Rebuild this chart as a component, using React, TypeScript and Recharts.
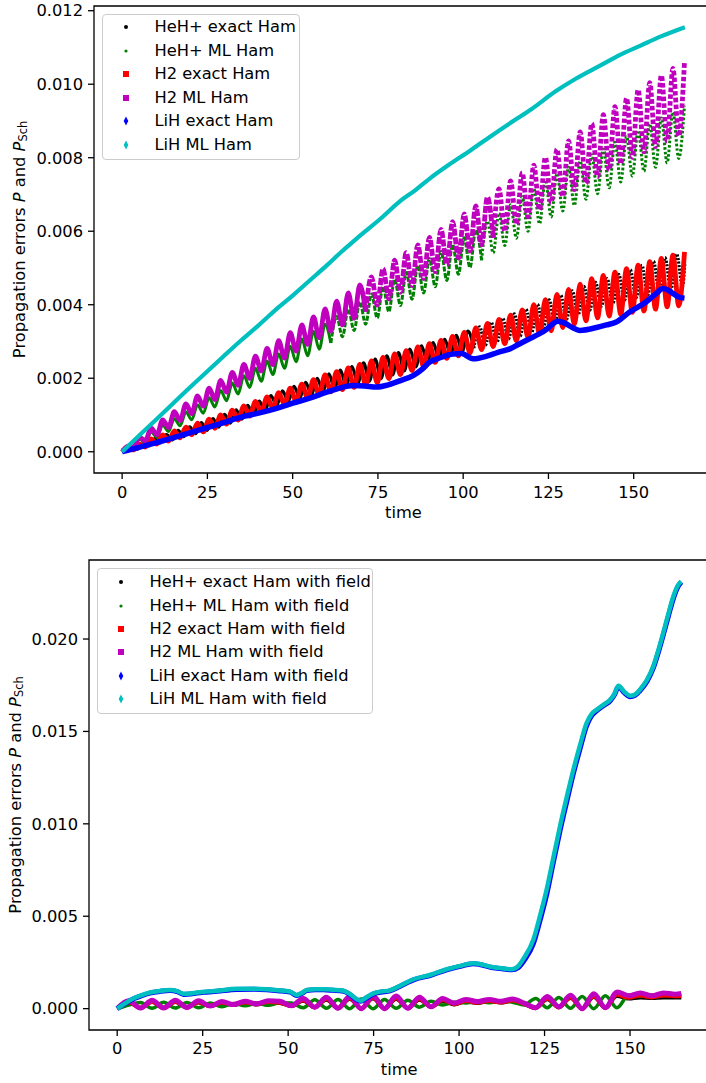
import React from 'react';
import { LineChart, Line, XAxis, YAxis, ReferenceArea, Label } from 'recharts';

const FONT = '"DejaVu Sans", sans-serif';
const FS = 16.3;

// ---------- field-free propagation (values in units of 1e-3) ----------
// half-period sampling of the oscillating errors
const tOsc = [
  0, 1.7, 3.4, 5.1, 6.8, 8.5, 10.2, 11.9, 13.6, 15.3,
  17, 18.7, 20.4, 22.1, 23.8, 25.5, 27.2, 28.9, 30.6, 32.3,
  34, 35.7, 37.4, 39.1, 40.8, 42.5, 44.2, 45.9, 47.6, 49.3,
  51, 52.7, 54.4, 56.1, 57.8, 59.5, 61.2, 62.9, 64.6, 66.3,
  68, 69.7, 71.4, 73.1, 74.8, 76.5, 78.2, 79.9, 81.6, 83.3,
  85, 86.7, 88.4, 90.1, 91.8, 93.5, 95.2, 96.9, 98.6, 100.3,
  102, 103.7, 105.4, 107.1, 108.8, 110.5, 112.2, 113.9, 115.6, 117.3,
  119, 120.7, 122.4, 124.1, 125.8, 127.5, 129.2, 130.9, 132.6, 134.3,
  136, 137.7, 139.4, 141.1, 142.8, 144.5, 146.2, 147.9, 149.6, 151.3,
  153, 154.7, 156.4, 158.1, 159.8, 161.5, 163.2, 164.9,
];
// HeH+ exact Ham lags the other oscillating curves slightly
const tHeExact = [
  0, 2.8, 4.5, 6.2, 7.9, 9.6, 11.3, 13, 14.7, 16.4,
  18.1, 19.8, 21.5, 23.2, 24.9, 26.6, 28.3, 30, 31.7, 33.4,
  35.1, 36.8, 38.5, 40.2, 41.9, 43.6, 45.3, 47, 48.7, 50.4,
  52.1, 53.8, 55.5, 57.2, 58.9, 60.6, 62.3, 64, 65.7, 67.4,
  69.1, 70.8, 72.5, 74.2, 75.9, 77.6, 79.3, 81, 82.7, 84.4,
  86.1, 87.8, 89.5, 91.2, 92.9, 94.6, 96.3, 98, 99.7, 101.4,
  103.1, 104.8, 106.5, 108.2, 109.9, 111.6, 113.3, 115, 116.7, 118.4,
  120.1, 121.8, 123.5, 125.2, 126.9, 128.6, 130.3, 132, 133.7, 135.4,
  137.1, 138.8, 140.5, 142.2, 143.9, 145.6, 147.3, 149, 150.7, 152.4,
  154.1, 155.8, 157.5, 159.2, 160.9, 162.6, 164.3, 165,
];
const heExact = [
  0.00, 0.10, 0.07, 0.22, 0.16, 0.36, 0.24, 0.47, 0.32, 0.58,
  0.41, 0.68, 0.49, 0.79, 0.58, 0.90, 0.67, 1.02, 0.78, 1.14,
  0.89, 1.26, 1.00, 1.38, 1.12, 1.53, 1.26, 1.66, 1.37, 1.78,
  1.46, 1.89, 1.55, 2.00, 1.64, 2.12, 1.73, 2.22, 1.79, 2.32,
  1.86, 2.42, 1.92, 2.52, 1.99, 2.61, 2.09, 2.70, 2.20, 2.79,
  2.31, 2.88, 2.43, 2.97, 2.54, 3.06, 2.65, 3.17, 2.73, 3.28,
  2.82, 3.40, 2.90, 3.52, 2.98, 3.63, 3.07, 3.75, 3.15, 3.88,
  3.25, 4.01, 3.36, 4.13, 3.48, 4.26, 3.60, 4.38, 3.72, 4.50,
  3.85, 4.61, 3.96, 4.71, 4.04, 4.83, 4.12, 4.95, 4.19, 5.07,
  4.27, 5.18, 4.34, 5.28, 4.41, 5.38, 4.50, 5.15,
];
const heML = [
  0.00, 0.14, 0.11, 0.34, 0.25, 0.54, 0.39, 0.73, 0.55, 0.90,
  0.71, 1.08, 0.87, 1.27, 1.05, 1.47, 1.22, 1.67, 1.39, 1.87,
  1.57, 2.07, 1.75, 2.27, 1.92, 2.47, 2.10, 2.66, 2.27, 2.87,
  2.45, 3.07, 2.61, 3.28, 2.79, 3.47, 2.96, 3.68, 3.13, 3.88,
  3.30, 4.08, 3.47, 4.29, 3.64, 4.49, 3.81, 4.69, 3.98, 4.88,
  4.15, 5.07, 4.32, 5.26, 4.49, 5.45, 4.66, 5.64, 4.83, 5.82,
  5.01, 6.04, 5.21, 6.27, 5.41, 6.49, 5.61, 6.72, 5.81, 6.94,
  6.00, 7.16, 6.20, 7.39, 6.39, 7.57, 6.55, 7.74, 6.70, 7.91,
  6.87, 8.08, 7.02, 8.24, 7.18, 8.42, 7.34, 8.58, 7.50, 8.74,
  7.63, 8.92, 7.74, 9.08, 7.86, 9.24, 7.98, 9.42,
];
const h2Exact = [
  0.02, 0.09, 0.05, 0.21, 0.13, 0.35, 0.21, 0.46, 0.29, 0.57,
  0.38, 0.67, 0.46, 0.78, 0.54, 0.89, 0.64, 1.00, 0.75, 1.13,
  0.86, 1.25, 0.97, 1.37, 1.08, 1.49, 1.19, 1.61, 1.29, 1.73,
  1.38, 1.84, 1.46, 1.96, 1.54, 2.09, 1.63, 2.18, 1.69, 2.28,
  1.75, 2.38, 1.82, 2.47, 1.88, 2.57, 1.99, 2.66, 2.10, 2.75,
  2.21, 2.85, 2.32, 2.94, 2.43, 3.03, 2.54, 3.14, 2.61, 3.25,
  2.69, 3.37, 2.78, 3.49, 2.86, 3.60, 2.94, 3.72, 3.02, 3.86,
  3.11, 4.00, 3.20, 4.14, 3.29, 4.28, 3.38, 4.42, 3.47, 4.56,
  3.56, 4.71, 3.64, 4.80, 3.69, 4.89, 3.74, 4.98, 3.79, 5.08,
  3.83, 5.17, 3.88, 5.26, 3.94, 5.35, 3.97, 5.44,
];
const h2ML = [
  0.00, 0.15, 0.13, 0.40, 0.30, 0.64, 0.46, 0.87, 0.66, 1.09,
  0.85, 1.30, 1.04, 1.52, 1.24, 1.73, 1.42, 1.94, 1.62, 2.16,
  1.81, 2.38, 2.00, 2.60, 2.20, 2.81, 2.37, 3.02, 2.55, 3.24,
  2.74, 3.45, 2.92, 3.67, 3.10, 3.89, 3.28, 4.10, 3.45, 4.32,
  3.63, 4.54, 3.81, 4.76, 3.99, 4.98, 4.16, 5.21, 4.34, 5.42,
  4.52, 5.63, 4.71, 5.83, 4.90, 6.05, 5.09, 6.26, 5.27, 6.47,
  5.46, 6.69, 5.63, 6.93, 5.82, 7.15, 6.00, 7.37, 6.19, 7.59,
  6.39, 7.80, 6.58, 8.01, 6.78, 8.23, 6.95, 8.46, 7.13, 8.70,
  7.30, 8.93, 7.48, 9.17, 7.66, 9.39, 7.83, 9.62, 8.01, 9.85,
  8.16, 10.04, 8.30, 10.24, 8.45, 10.43, 8.59, 10.63,
];
const tLiHExact = [
  0, 5, 10, 15, 20, 25, 30, 32.6, 36, 40, 45.3, 50, 55, 60, 64, 67.8,
  71, 74.6, 78, 82, 85.3, 88, 90.2, 93, 97.1, 99.5, 102.9, 106.9, 110, 113.7,
  116.6, 120.5, 124, 127.8, 129.8, 132, 134.2, 139.1, 142, 144.9, 148.8, 153.7,
  156.5, 158.6, 160, 161.5, 163, 164.9,
];
const lihExact = [
  0, 0.12, 0.25, 0.38, 0.52, 0.66, 0.8, 0.88, 0.97, 1.05, 1.18, 1.32, 1.46, 1.62, 1.74, 1.8,
  1.79, 1.76, 1.82, 1.95, 2.07, 2.25, 2.44, 2.55, 2.66, 2.67, 2.53, 2.6, 2.7, 2.8,
  2.94, 3.12, 3.3, 3.55, 3.5, 3.38, 3.3, 3.38, 3.45, 3.53, 3.8, 4.08,
  4.3, 4.44, 4.4, 4.31, 4.22, 4.18,
];
const tLiHML = [
  0, 5, 10, 15, 20, 25, 30, 35, 40, 46, 50, 55, 60, 64.4, 68, 72,
  76, 81.5, 86, 90, 96, 102, 108, 114.7, 120, 127, 133, 140, 146, 152, 158, 165,
];
const lihML = [
  0, 0.44, 0.88, 1.32, 1.76, 2.19, 2.62, 3.04, 3.44, 3.94, 4.25, 4.66, 5.07, 5.45, 5.74, 6.05,
  6.36, 6.82, 7.12, 7.42, 7.82, 8.19, 8.58, 9.0, 9.32, 9.8, 10.15, 10.5, 10.8, 11.05, 11.3, 11.55,
];

// ---------- propagation with field (values in units of 1e-3) ----------
const tField = [
  0, 3.4, 6.8, 10.2, 13.6, 17, 20.4, 23.8, 27.2, 30.6,
  34, 37.4, 40.8, 44.2, 47.6, 51, 54.4, 57.8, 61.2, 64.6,
  68, 71.4, 74.8, 78.2, 81.6, 85, 88.4, 91.8, 95.2, 98.6,
  102, 105.4, 108.8, 112.2, 115.6, 119, 122.4, 125.8, 129.2, 132.6,
  136, 139.4, 142.8, 146.2, 149.6, 153, 156.4, 159.8, 163.2, 165,
];
const fHeExact = [
  0, 0.30, 0.03, 0.33, 0.04, 0.33, 0.06, 0.30, 0.12, 0.28,
  0.18, 0.30, 0.20, 0.30, 0.28, 0.12, 0.40, 0.05, 0.45, 0.0,
  0.50, 0.0, 0.52, 0.0, 0.50, 0.02, 0.46, 0.08, 0.40, 0.20,
  0.36, 0.28, 0.38, 0.30, 0.40, 0.22, 0.02, 0.48, 0.05, 0.55,
  0.0, 0.60, 0.03, 0.65, 0.52, 0.58, 0.55, 0.58, 0.57, 0.58,
];
const fHeML = [
  0.0, 0.20, 0.33, 0.02, 0.34, 0.03, 0.33, 0.05, 0.30, 0.10,
  0.28, 0.15, 0.30, 0.18, 0.32, 0.30, 0.05, 0.48, 0.02, 0.50,
  0.0, 0.52, 0.0, 0.50, 0.02, 0.46, 0.08, 0.40, 0.20, 0.35,
  0.30, 0.40, 0.32, 0.42, 0.35, 0.20, 0.55, 0.05, 0.60, 0.02,
  0.65, 0.0, 0.70, 0.05, 0.72, 0.68, 0.72, 0.70, 0.72, 0.74,
];
const fH2Exact = [
  0, 0.35, 0.04, 0.38, 0.05, 0.38, 0.07, 0.36, 0.15, 0.33,
  0.22, 0.35, 0.25, 0.37, 0.33, 0.15, 0.47, 0.08, 0.53, 0.03,
  0.57, 0.01, 0.60, 0.01, 0.58, 0.03, 0.54, 0.10, 0.48, 0.25,
  0.42, 0.33, 0.43, 0.35, 0.45, 0.27, 0.04, 0.56, 0.08, 0.62,
  0.0, 0.68, 0.05, 0.76, 0.60, 0.72, 0.62, 0.73, 0.68, 0.70,
];
const fH2ML = [
  0.0, 0.42, 0.03, 0.45, 0.04, 0.45, 0.06, 0.42, 0.14, 0.38,
  0.22, 0.40, 0.26, 0.42, 0.40, 0.15, 0.55, 0.08, 0.62, 0.02,
  0.66, 0.0, 0.70, 0.0, 0.68, 0.02, 0.62, 0.10, 0.55, 0.30,
  0.50, 0.38, 0.50, 0.40, 0.52, 0.30, 0.05, 0.65, 0.10, 0.72,
  0.0, 0.80, 0.05, 0.90, 0.70, 0.85, 0.70, 0.85, 0.78, 0.82,
];
const tLiHField = [
  0, 2.4, 4.8, 7, 9.6, 12.5, 15.5, 17.5, 19.4, 21.5,
  23.3, 26, 29.2, 35, 40, 43.8, 47, 50.6, 52.5, 54,
  55.5, 58, 60.3, 63, 66.2, 68, 70.1, 71.1, 73, 75,
  77, 79.8, 82.3, 84.5, 86.7, 91.5, 96.4, 100, 104.2, 106,
  109.1, 112, 115.4, 117.3, 119, 121.7, 123.5, 125.6, 127.5, 129.5,
  131.5, 133.4, 135.3, 137.3, 138.8, 140.3, 142.3, 144.2, 145.5, 146.6,
  148.3, 150, 151.5, 152.9, 155, 156.8, 158.3, 159.7, 161.2, 162.7,
  164, 165,
];
const fLiHExact = [
  0, 0.28, 0.53, 0.69, 0.84, 0.93, 0.98, 0.92, 0.77, 0.79,
  0.84, 0.89, 0.94, 1.04, 1.05, 1.02, 0.97, 0.89, 0.71, 0.82,
  0.98, 1.02, 1.02, 0.99, 0.94, 0.77, 0.48, 0.40, 0.59, 0.80,
  0.89, 0.96, 1.17, 1.37, 1.56, 1.79, 2.10, 2.27, 2.43, 2.39,
  2.24, 2.17, 2.10, 2.22, 2.6, 3.5, 4.65, 6.15, 7.85, 9.6,
  11.2, 12.7, 14.0, 15.3, 15.85, 16.12, 16.4, 16.66, 17.0, 17.42,
  17.1, 16.88, 16.95, 17.2, 17.72, 18.42, 19.28, 20.2, 21.22, 22.2,
  22.82, 23.08,
];
const fLiHML = [
  0, 0.3, 0.56, 0.72, 0.87, 0.96, 1.01, 0.95, 0.8, 0.82,
  0.87, 0.92, 0.97, 1.07, 1.08, 1.05, 1.0, 0.92, 0.74, 0.85,
  1.01, 1.05, 1.05, 1.02, 0.97, 0.8, 0.51, 0.43, 0.62, 0.83,
  0.92, 0.99, 1.2, 1.4, 1.59, 1.82, 2.13, 2.3, 2.46, 2.42,
  2.27, 2.2, 2.13, 2.3, 2.75, 3.72, 4.9, 6.43, 8.1, 9.85,
  11.45, 12.9, 14.2, 15.45, 15.95, 16.18, 16.45, 16.71, 17.05, 17.47,
  17.15, 16.93, 17.0, 17.26, 17.8, 18.52, 19.4, 20.32, 21.35, 22.31,
  22.9, 23.12,
];

const timeTicks = [0, 25, 50, 75, 100, 125, 150];
const topTicks = [0, 2, 4, 6, 8, 10, 12];
const bottomTicks = [0, 5, 10, 15, 20];
const xDomain: [number, number] = [-8.25, 173.25];
const topDomain: [number, number] = [-0.578, 12.128];
const bottomDomain: [number, number] = [-1.156, 24.276];

const topNames = ['HeH+ exact Ham', 'HeH+ ML Ham', 'H2 exact Ham', 'H2 ML Ham', 'LiH exact Ham', 'LiH ML Ham'];
const bottomNames = topNames.map((n) => n + ' with field');
const colors = ['#000000', '#008000', '#ff0000', '#bf00bf', '#0000ff', '#00bfbf'];
const markers = ['dot', 'smallDot', 'square', 'square', 'diamond', 'diamond'];

type Row = { t: number; v: number };
const rows = (ts: number[], vs: number[]): Row[] => ts.map((t, i) => ({ t, v: vs[i] }));

const fmt = (v: number) => (v / 1000).toFixed(3);

function YTitle(props: any) {
  const vb = props.viewBox || { x: 0, y: 0, width: 0, height: 0 };
  const cx = vb.x + props.shift;
  const cy = vb.y + vb.height / 2;
  return (
    <text
      x={cx}
      y={cy}
      transform={`rotate(-90 ${cx} ${cy})`}
      textAnchor="middle"
      dominantBaseline="central"
      fontFamily={FONT}
      fontSize={FS}
      fill="#000"
    >
      {'Propagation errors '}
      <tspan fontStyle="italic">P</tspan>
      {' and '}
      <tspan fontStyle="italic">P</tspan>
      <tspan fontSize={FS * 0.7} dy={4}>Sch</tspan>
    </text>
  );
}

function Marker({ kind, color }: { kind: string; color: string }) {
  return (
    <svg width={14} height={14} viewBox="-7 -7 14 14" style={{ display: 'block' }}>
      {kind === 'dot' && <circle r={2} fill={color} />}
      {kind === 'smallDot' && <circle r={1.6} fill={color} />}
      {kind === 'square' && <rect x={-3} y={-3} width={6} height={6} fill={color} />}
      {kind === 'diamond' && <polygon points="0,-4.5 2.3,0 0,4.5 -2.3,0" fill={color} />}
    </svg>
  );
}

function LegendBox({ names, left, top, width, height, rowY }: {
  names: string[]; left: number; top: number; width: number; height: number; rowY: number[];
}) {
  return (
    <div
      style={{
        position: 'absolute', left, top, width, height, boxSizing: 'border-box',
        border: '1px solid #cccccc', borderRadius: 4, background: 'rgba(255,255,255,0.8)',
        fontFamily: FONT, fontSize: FS, color: '#000',
      }}
    >
      {names.map((name, i) => (
        <div key={name} style={{ position: 'absolute', left: 0, top: rowY[i] - 10, height: 20, width: '100%' }}>
          <div style={{ position: 'absolute', left: 15.7, top: 3 }}>
            <Marker kind={markers[i]} color={colors[i]} />
          </div>
          <div style={{ position: 'absolute', left: 51.5, top: 0, lineHeight: '20px', whiteSpace: 'nowrap' }}>{name}</div>
        </div>
      ))}
    </div>
  );
}

const tickStyle = { fill: '#000', fontSize: FS, fontFamily: FONT };

const heExactRows = rows(tHeExact, heExact);
const heMLRows = rows(tOsc, heML);
const h2ExactRows = rows(tOsc, h2Exact);
const h2MLRows = rows(tOsc, h2ML);
const lihExactRows = rows(tLiHExact, lihExact);
const lihMLRows = rows(tLiHML, lihML);

const fHeExactRows = rows(tField, fHeExact);
const fHeMLRows = rows(tField, fHeML);
const fH2ExactRows = rows(tField, fH2Exact);
const fH2MLRows = rows(tField, fH2ML);
const fLiHExactRows = rows(tLiHField, fLiHExact);
const fLiHMLRows = rows(tLiHField, fLiHML);

function series(data: Row[], color: string, width: number, key: string, dash?: string) {
  return (
    <Line
      key={key}
      data={data}
      dataKey="v"
      type="monotone"
      stroke={color}
      strokeWidth={width}
      strokeDasharray={dash}
      dot={false}
      activeDot={false}
      isAnimationActive={false}
      legendType="none"
    />
  );
}

// the sampled markers thin out as the swings steepen: solid, then loosely and finely dotted
function fading(data: Row[], color: string, width: number, key: string, cuts: number[], dashes: string[]) {
  const parts = [series(data.slice(0, cuts[0] + 1), color, width, key + '-0')];
  cuts.forEach((c, i) => {
    const end = i + 1 < cuts.length ? cuts[i + 1] + 1 : data.length;
    parts.push(series(data.slice(c, end), color, width, key + '-' + (i + 1), dashes[i]));
  });
  return parts;
}

export default function App() {
  return (
    <div style={{ position: 'absolute', left: 0, top: 0, width: 706, height: 1083, overflow: 'hidden', background: '#fff' }}>
      <div style={{ position: 'absolute', left: 0, top: 0 }}>
        <LineChart width={722} height={530} margin={{ top: 6, right: 9, bottom: 0, left: 0 }}>
          <XAxis
            type="number" dataKey="t" domain={xDomain} ticks={timeTicks} allowDataOverflow
            axisLine={false} tickSize={6} tickMargin={7} height={57}
            tickLine={{ stroke: '#000', strokeWidth: 1.3 }} tick={tickStyle}
          >
            <Label value="time" position="insideBottom" offset={12} fill="#000" fontSize={FS} fontFamily={FONT} />
          </XAxis>
          <YAxis
            type="number" domain={topDomain} ticks={topTicks} allowDataOverflow tickFormatter={fmt}
            axisLine={false} tickSize={6} tickMargin={5} width={94}
            tickLine={{ stroke: '#000', strokeWidth: 1.3 }} tick={tickStyle}
          >
            <Label content={(p: any) => <YTitle {...p} shift={19} />} />
          </YAxis>
          <ReferenceArea x1={xDomain[0]} x2={xDomain[1]} y1={topDomain[0]} y2={topDomain[1]} fill="none" stroke="#000" strokeWidth={1.3} />
          {fading(heExactRows, colors[0], 3.2, 'he-e', [60], ['2 1.5'])}
          {fading(heMLRows, colors[1], 3, 'he-m', [36, 62], ['5 1.5', '2.5 2'])}
          {series(h2ExactRows, colors[2], 4.8, 'h2-e')}
          {fading(h2MLRows, colors[3], 4.8, 'h2-m', [42, 64], ['7 1.5', '4.5 2.2'])}
          {series(lihExactRows, colors[4], 5.5, 'lih-e')}
          {series(lihMLRows, colors[5], 4.2, 'lih-m')}
        </LineChart>
      </div>
      <LegendBox names={topNames} left={102} top={14} width={198} height={146} rowY={[12, 35.6, 59.2, 82.8, 106.4, 130]} />

      <div style={{ position: 'absolute', left: 0, top: 540 }}>
        <LineChart width={722} height={543} margin={{ top: 20, right: 12.5, bottom: 0, left: 0 }}>
          <XAxis
            type="number" dataKey="t" domain={xDomain} ticks={timeTicks} allowDataOverflow
            axisLine={false} tickSize={6} tickMargin={6} height={53}
            tickLine={{ stroke: '#000', strokeWidth: 1.3 }} tick={tickStyle}
          >
            <Label value="time" position="insideBottom" offset={8} fill="#000" fontSize={FS} fontFamily={FONT} />
          </XAxis>
          <YAxis
            type="number" domain={bottomDomain} ticks={bottomTicks} allowDataOverflow tickFormatter={fmt}
            axisLine={false} tickSize={6} tickMargin={5} width={89}
            tickLine={{ stroke: '#000', strokeWidth: 1.3 }} tick={tickStyle}
          >
            <Label content={(p: any) => <YTitle {...p} shift={15} />} />
          </YAxis>
          <ReferenceArea x1={xDomain[0]} x2={xDomain[1]} y1={bottomDomain[0]} y2={bottomDomain[1]} fill="none" stroke="#000" strokeWidth={1.3} />
          {series(fHeExactRows, colors[0], 3, 'f-he-e')}
          {series(fHeMLRows, colors[1], 3.5, 'f-he-m')}
          {series(fH2ExactRows, colors[2], 4.5, 'f-h2-e')}
          {series(fH2MLRows, colors[3], 5, 'f-h2-m')}
          {series(fLiHExactRows, colors[4], 5, 'f-lih-e')}
          {series(fLiHMLRows, colors[5], 4.5, 'f-lih-m')}
        </LineChart>
      </div>
      <LegendBox names={bottomNames} left={97} top={568} width={276} height={146} rowY={[13.4, 36.7, 60, 83.3, 106.6, 130]} />
    </div>
  );
}
